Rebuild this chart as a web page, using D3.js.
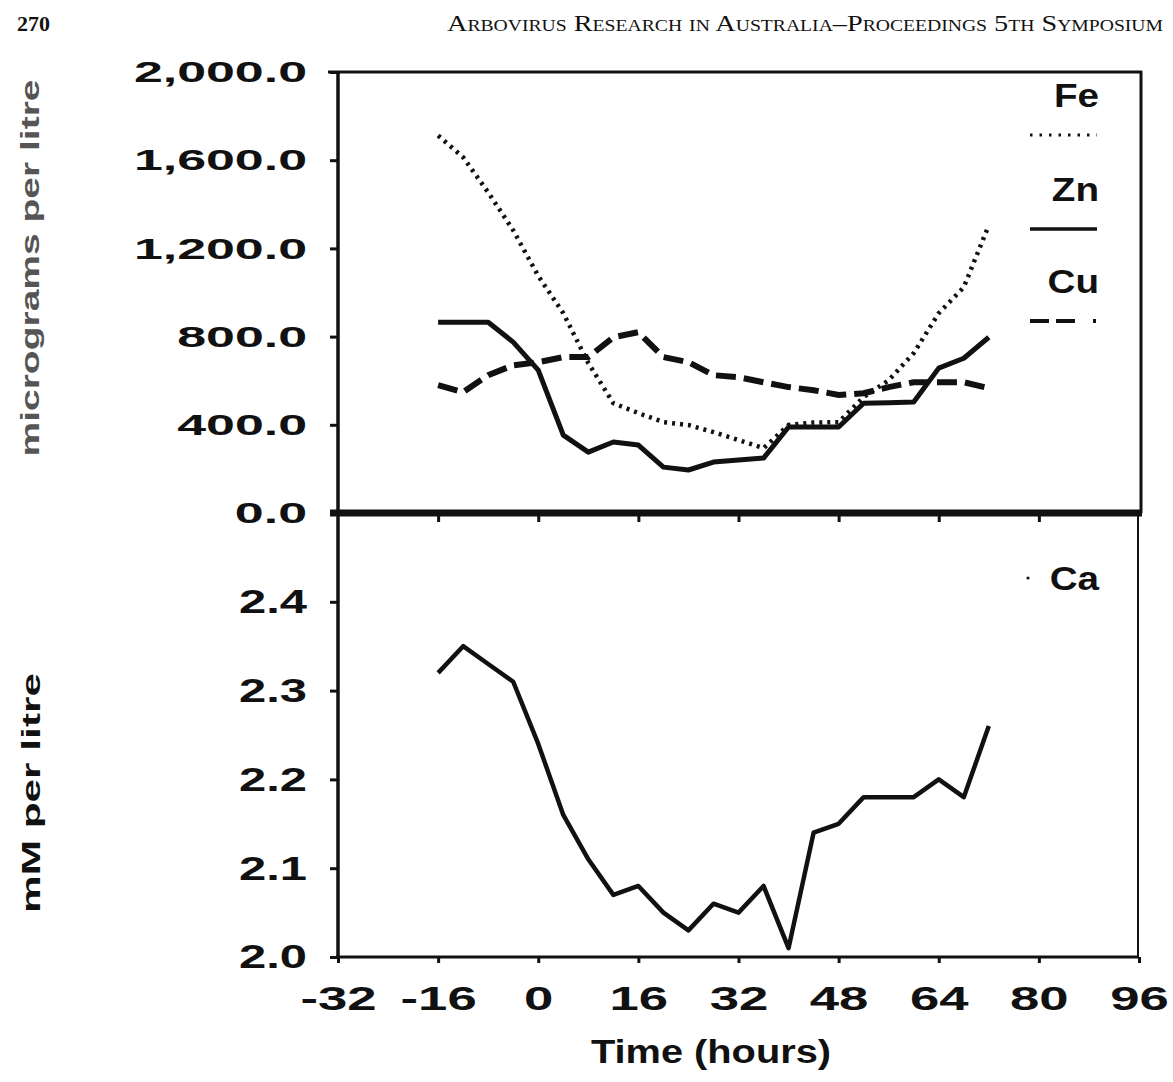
<!DOCTYPE html>
<html>
<head>
<meta charset="utf-8">
<script src="https://cdn.jsdelivr.net/npm/d3@7"></script>
<style>
  body { margin: 0; background: #fff; }
  svg { display: block; }
  text { font-family: "Liberation Sans", Arial, sans-serif; font-weight: bold; fill: #111; }
</style>
</head>
<body>
<div id="chart"></div>
<script>
// sampling times (hours) shared by every series
var hours = [-16, -12, -8, -4, 0, 4, 8, 12, 16, 20, 24, 28, 32, 36, 40, 44, 48, 52, 56, 60, 64, 68, 72];

// micrograms per litre
var fe = [1712, 1613, 1454, 1282, 1075, 906, 680, 498, 453, 412, 399, 367, 331, 294, 399, 410, 412, 526, 602, 725, 906, 1024, 1305];
var zn = [865, 865, 865, 775, 648, 353, 276, 322, 308, 208, 195, 231, 240, 249, 390, 390, 390, 498, 500, 503, 657, 702, 797];
var cu = [580, 548, 625, 670, 684, 707, 707, 797, 820, 707, 684, 625, 616, 593, 571, 557, 535, 543, 571, 593, 593, 593, 566];

// mM per litre
var ca = [2.32, 2.35, 2.33, 2.31, 2.24, 2.16, 2.11, 2.07, 2.08, 2.05, 2.03, 2.06, 2.05, 2.08, 2.01, 2.14, 2.15, 2.18, 2.18, 2.18, 2.20, 2.18, 2.26];

var xTicks = [-32, -16, 0, 16, 32, 48, 64, 80, 96];
var topTicks = [0, 400, 800, 1200, 1600, 2000];
var botTicks = [2.0, 2.1, 2.2, 2.3, 2.4];
var legendNames = ['Fe', 'Zn', 'Cu'];

var W = 1173, H = 1082;
var svg = d3.select('#chart').append('svg')
    .attr('width', W)
    .attr('height', H);

var x = d3.scaleLinear().domain([-32, 96]).range([338, 1139]);
var yTop = d3.scaleLinear().domain([0, 2000]).range([513, 72]);
var yBot = d3.scaleLinear().domain([2.0, 2.5]).range([957, 513]);

// running header
svg.append('text')
    .attr('x', 17).attr('y', 31)
    .attr('textLength', 33).attr('lengthAdjust', 'spacingAndGlyphs')
    .style('font-family', '"Liberation Serif", serif')
    .style('font-size', '20px')
    .text('270');
svg.append('text')
    .attr('x', 447).attr('y', 31)
    .attr('textLength', 716).attr('lengthAdjust', 'spacingAndGlyphs')
    .style('font-family', '"Liberation Serif", serif')
    .style('font-weight', 'normal')
    .style('font-variant', 'small-caps')
    .style('font-size', '23px')
    .text('Arbovirus Research in Australia\u2013Proceedings 5th Symposium');

function styleAxis(g, sx, fs, xOff) {
    g.attr('font-size', null).attr('font-family', null);
    g.selectAll('.tick line').attr('stroke', '#111').attr('stroke-width', 3);
    g.selectAll('.tick text')
        .style('font-size', fs + 'px')
        .attr('fill', '#111')
        .attr('transform', 'scale(' + sx + ',1)');
    if (xOff != null) g.selectAll('.tick text').attr('x', xOff / sx);
}

// left axes
var gTop = svg.append('g').attr('transform', 'translate(338,0)')
    .call(d3.axisLeft(yTop).tickValues(topTicks).tickSize(8).tickSizeOuter(0)
        .tickPadding(23).tickFormat(d3.format(',.1f')));
gTop.select('.domain').remove();
styleAxis(gTop, 1.73, 30, -31);

var gBot = svg.append('g').attr('transform', 'translate(338,0)')
    .call(d3.axisLeft(yBot).tickValues(botTicks).tickSize(8).tickSizeOuter(0)
        .tickPadding(23).tickFormat(d3.format('.1f')));
gBot.select('.domain').remove();
styleAxis(gBot, 1.44, 34, -31);

// x axis under the lower panel
var gX = svg.append('g').attr('transform', 'translate(0,957)')
    .call(d3.axisBottom(x).tickValues(xTicks).tickSize(6).tickSizeOuter(0)
        .tickPadding(23).tickFormat(function(d) { return String(d); }));
gX.select('.domain').remove();
styleAxis(gX, 1.55, 34, null);

// ticks on the divider between panels
var gMid = svg.append('g').attr('transform', 'translate(0,513)')
    .call(d3.axisBottom(x).tickValues(xTicks.slice(1, -1)).tickSize(9).tickSizeOuter(0).tickFormat(''));
gMid.select('.domain').remove();
gMid.selectAll('.tick line').attr('stroke', '#111').attr('stroke-width', 3);

// frame
var frame = svg.append('g').attr('stroke', '#111').attr('fill', 'none');
frame.append('line').attr('x1', 328).attr('x2', 1142).attr('y1', 72).attr('y2', 72).attr('stroke-width', 3);
frame.append('line').attr('x1', 1141).attr('x2', 1141).attr('y1', 71).attr('y2', 513).attr('stroke-width', 3);
frame.append('line').attr('x1', 1138).attr('x2', 1138).attr('y1', 513).attr('y2', 958).attr('stroke-width', 2);
frame.append('line').attr('x1', 338).attr('x2', 338).attr('y1', 71).attr('y2', 958).attr('stroke-width', 3.5);
frame.append('line').attr('x1', 330).attr('x2', 1142).attr('y1', 513).attr('y2', 513).attr('stroke-width', 7);
frame.append('line').attr('x1', 336).attr('x2', 1139).attr('y1', 957).attr('y2', 957).attr('stroke-width', 3);

// series
var lineTop = d3.line()
    .x(function(d, i) { return x(hours[i]); })
    .y(function(d) { return yTop(d); });
var lineBot = d3.line()
    .x(function(d, i) { return x(hours[i]); })
    .y(function(d) { return yBot(d); });

svg.append('path').datum(cu)
    .attr('d', lineTop).attr('fill', 'none').attr('stroke', '#111')
    .attr('stroke-width', 6).attr('stroke-dasharray', '20,8');
svg.append('path').datum(fe)
    .attr('d', lineTop).attr('fill', 'none').attr('stroke', '#111')
    .attr('stroke-width', 4.5).attr('stroke-dasharray', '3,5');
svg.append('path').datum(zn)
    .attr('d', lineTop).attr('fill', 'none').attr('stroke', '#111')
    .attr('stroke-width', 5).attr('stroke-linejoin', 'round');
svg.append('path').datum(ca)
    .attr('d', lineBot).attr('fill', 'none').attr('stroke', '#111')
    .attr('stroke-width', 4.5).attr('stroke-linejoin', 'round');

// legend
var legendY = [107, 201, 293];
var legendDash = ['2.5,7', null, '19,7,19,18,3'];
var legendW = [3, 3.5, 4];
legendNames.forEach(function(name, i) {
    svg.append('text')
        .attr('transform', 'translate(1099,' + legendY[i] + ') scale(1.17,1)')
        .attr('text-anchor', 'end')
        .style('font-size', '33px')
        .text(name);
    svg.append('line')
        .attr('x1', 1030).attr('x2', 1097)
        .attr('y1', legendY[i] + 28).attr('y2', legendY[i] + 28)
        .attr('stroke', '#111').attr('stroke-width', legendW[i])
        .attr('stroke-dasharray', legendDash[i]);
});
svg.append('circle').attr('cx', 1028).attr('cy', 578).attr('r', 1.6).attr('fill', '#111');
svg.append('text')
    .attr('transform', 'translate(1099,590) scale(1.17,1)')
    .attr('text-anchor', 'end')
    .style('font-size', '33px')
    .text('Ca');

// axis titles
svg.append('text')
    .attr('transform', 'translate(39,268) rotate(-90)')
    .attr('text-anchor', 'middle')
    .attr('textLength', 377).attr('lengthAdjust', 'spacingAndGlyphs')
    .style('font-size', '26px').style('fill', '#555')
    .text('micrograms per litre');
svg.append('text')
    .attr('transform', 'translate(40,793) rotate(-90)')
    .attr('text-anchor', 'middle')
    .attr('textLength', 240).attr('lengthAdjust', 'spacingAndGlyphs')
    .style('font-size', '26px')
    .text('mM per litre');
svg.append('text')
    .attr('x', 711).attr('y', 1063)
    .attr('text-anchor', 'middle')
    .attr('textLength', 240).attr('lengthAdjust', 'spacingAndGlyphs')
    .style('font-size', '34px')
    .text('Time (hours)');
</script>
</body>
</html>
